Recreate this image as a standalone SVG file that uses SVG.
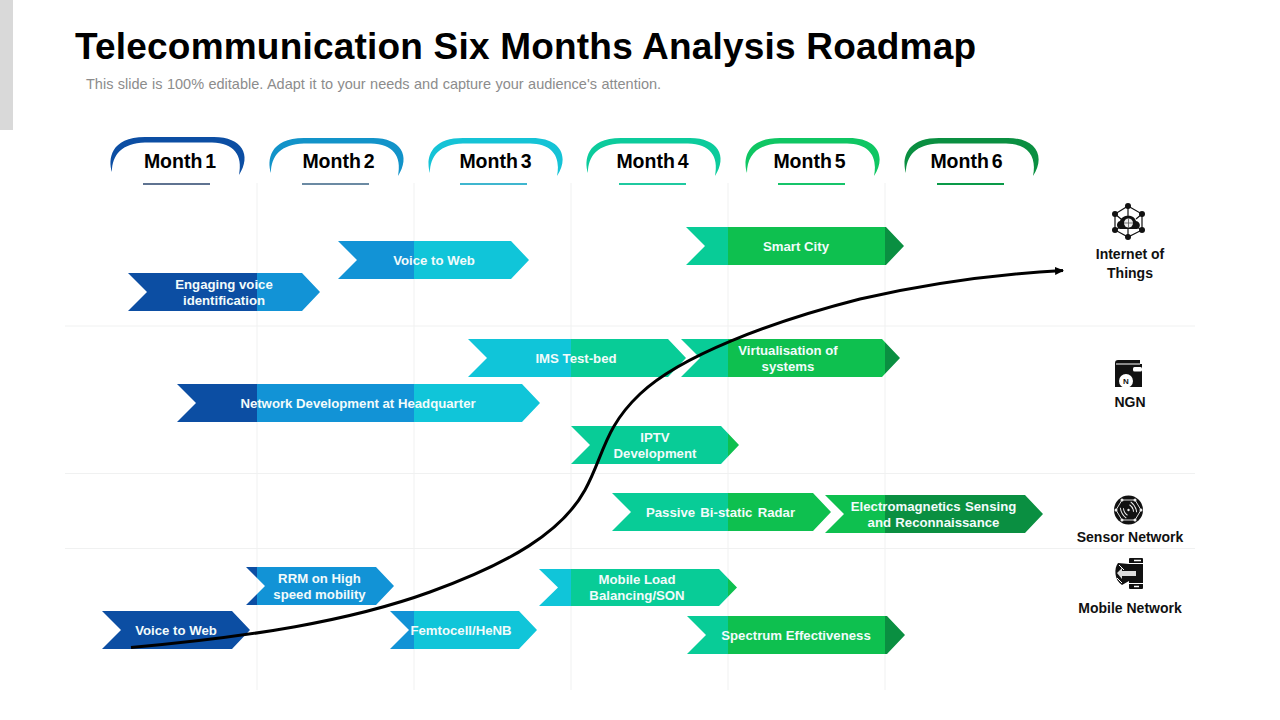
<svg xmlns="http://www.w3.org/2000/svg" width="1280" height="720" viewBox="0 0 1280 720">
<style>
text{font-family:"Liberation Sans",Arial,sans-serif}
.title{font-size:37px;font-weight:700;fill:#000;letter-spacing:.2px}
.sub{font-size:14.500px;fill:#8c8c8c;word-spacing:.4px}
.mon{font-size:19.500px;font-weight:700;fill:#000;text-anchor:middle;word-spacing:-2.500px}
.bar{fill:url(#band)}
.lbl{font-size:13.200px;font-weight:700;fill:#f2fbfb;text-anchor:middle}
.cat{font-size:14px;font-weight:700;fill:#111;text-anchor:middle}
.grid{stroke:#f0f1f1;stroke-width:1;fill:none}
.ul{stroke-width:2;fill:none}
</style>
<defs>
<linearGradient id="band" gradientUnits="userSpaceOnUse" x1="0" y1="0" x2="1280" y2="0">
<stop offset=".2008" stop-color="#0c4ea3"/><stop offset=".2008" stop-color="#1293d6"/>
<stop offset=".3234" stop-color="#1293d6"/><stop offset=".3234" stop-color="#10c5d9"/>
<stop offset=".4461" stop-color="#10c5d9"/><stop offset=".4461" stop-color="#08cc97"/>
<stop offset=".5688" stop-color="#08cc97"/><stop offset=".5688" stop-color="#0ec04f"/>
<stop offset=".6914" stop-color="#0ec04f"/><stop offset=".6914" stop-color="#0a8f41"/>
</linearGradient>
<path id="tabshape" d="M2 35C-2 23 0 0 35 0H104C132 0 142 18 129 38C133 18 124 6 102 5.500H35C12 6 2 18 2 35Z"/>
<marker id="arr" markerUnits="userSpaceOnUse" markerWidth="10" markerHeight="10" refX="8" refY="4" orient="auto"><path d="M0 0L9 4L0 8Z" fill="#000"/></marker>
</defs>
<rect x="0" y="0" width="13" height="130" fill="#d9d9d9"/>
<text class="title" x="75" y="59">Telecommunication Six Months Analysis Roadmap</text>
<text class="sub" x="86" y="89">This slide is 100% editable. Adapt it to your needs and capture your audience's attention.</text>
<g id="grid">
<path class="grid" d="M257 183V690M414 183V690M571 183V690M728 183V690M885 183V690"/>
<path class="grid" d="M65 326H1195M65 473.500H1195M65 548.500H1195"/>
</g>
<g id="months">
<g id="month-1"><use href="#tabshape" x="110" y="137" fill="#0c4ea3"/><text class="mon" x="180" y="168">Month 1</text><path class="ul" stroke="#5f7391" d="M143 184H210"/></g>
<g id="month-2"><use href="#tabshape" x="269" y="138" fill="#1293c9"/><text class="mon" x="338.500" y="168">Month 2</text><path class="ul" stroke="#6b8aa3" d="M302 184H369"/></g>
<g id="month-3"><use href="#tabshape" x="428" y="138" fill="#15c3d6"/><text class="mon" x="495.500" y="168">Month 3</text><path class="ul" stroke="#3fb6cf" d="M460 184H527"/></g>
<g id="month-4"><use href="#tabshape" x="586" y="138" fill="#0ccb9c"/><text class="mon" x="652.500" y="168">Month 4</text><path class="ul" stroke="#1fc9a0" d="M619 184H686"/></g>
<g id="month-5"><use href="#tabshape" x="745" y="138" fill="#0fc663"/><text class="mon" x="809.500" y="168">Month 5</text><path class="ul" stroke="#16c46a" d="M778 184H845"/></g>
<g id="month-6"><use href="#tabshape" x="904" y="138" fill="#0a8f41"/><text class="mon" x="966.500" y="168">Month 6</text><path class="ul" stroke="#0a9a48" d="M937 184H1004"/></g>
</g>
<g id="bars">
<g id="n1"><path class="bar" d="M128 273H302L320 292L302 311H128L147 292Z"/><text class="lbl"><tspan x="224" y="289">Engaging voice</tspan><tspan x="224" y="305">identification</tspan></text></g>
<g id="n2"><path class="bar" d="M338 241H511L529 260L511 279H338L357 260Z"/><text class="lbl" x="434" y="265">Voice to Web</text></g>
<g id="n3"><path class="bar" d="M686 227H886L904 246L886 265H686L705 246Z"/><text class="lbl" x="796" y="251">Smart City</text></g>
<g id="n4"><path class="bar" d="M468 339H668L686 358L668 377H468L487 358Z"/><text class="lbl" x="576" y="363">IMS Test-bed</text></g>
<g id="n5"><path class="bar" d="M681 339H882L900 358L882 377H681L700 358Z"/><text class="lbl"><tspan x="788" y="355">Virtualisation of</tspan><tspan x="788" y="371">systems</tspan></text></g>
<g id="n6"><path class="bar" d="M177 384H522L540 403L522 422H177L196 403Z"/><text class="lbl" x="358" y="408">Network Development at Headquarter</text></g>
<g id="n7"><path class="bar" d="M571 426H721L739 445L721 464H571L590 445Z"/><text class="lbl"><tspan x="655" y="442">IPTV</tspan><tspan x="655" y="458">Development</tspan></text></g>
<g id="n8"><path class="bar" d="M612 493H813L831 512L813 531H612L631 512Z"/><text class="lbl" x="720.500" y="517" word-spacing="1.600">Passive Bi-static Radar</text></g>
<g id="n9"><path class="bar" d="M825 495H1025L1043 514L1025 533H825L844 514Z"/><text class="lbl" word-spacing=".6"><tspan x="933.500" y="511">Electromagnetics Sensing</tspan><tspan x="933.500" y="527">and Reconnaissance</tspan></text></g>
<g id="n10"><path class="bar" d="M246 567H376L394 586L376 605H246L265 586Z"/><text class="lbl"><tspan x="319.500" y="583">RRM on High</tspan><tspan x="319.500" y="599">speed mobility</tspan></text></g>
<g id="n11"><path class="bar" d="M102 611H232L250 630L232 649H102L121 630Z"/><text class="lbl" x="176" y="635">Voice to Web</text></g>
<g id="n12"><path class="bar" d="M390 611H519L537 630L519 649H390L409 630Z"/><text class="lbl" x="461" y="635">Femtocell/HeNB</text></g>
<g id="n13"><path class="bar" d="M539 569H719L737 587.500L719 606H539L558 587.500Z"/><text class="lbl"><tspan x="637" y="584">Mobile Load</tspan><tspan x="637" y="600">Balancing/SON</tspan></text></g>
<g id="n14"><path class="bar" d="M687 616H887L905 635L887 654H687L706 635Z"/><text class="lbl" x="796" y="640">Spectrum Effectiveness</text></g>
</g>
<g id="connectors">
<path d="M131 647.500C250 637 350 621 430 592C510 563 562 532 585 490C604 455 604 428 640 394C680 356 770 322 860 299C930 283 1000 274 1063 270.500" fill="none" stroke="#000" stroke-width="3" marker-end="url(#arr)"/>
</g>
<g id="iot">
<path d="M1128 206L1142 214V230L1128 237L1115 230V214Z" fill="none" stroke="#111" stroke-width="1.200"/>
<path d="M1128 206V216M1115 214L1121 219M1142 214L1136 219M1115 230L1120 227M1142 230L1137 227M1128 237V228" stroke="#111" stroke-width="1.200"/>
<g fill="#111"><circle cx="1128" cy="206" r="3"/><circle cx="1115" cy="214" r="3"/><circle cx="1142" cy="214" r="3"/><circle cx="1115" cy="230" r="3"/><circle cx="1142" cy="230" r="3"/><circle cx="1128" cy="237" r="3"/>
<path d="M1120 229C1116 228 1116 222 1120 221C1121 215 1134 213 1136 221C1141 222 1141 228 1137 229Z"/></g>
<circle cx="1128.500" cy="223" r="4.500" fill="#eee"/>
<path d="M1124 223H1133M1128.500 218.500V227.500" stroke="#555" stroke-width=".8"/>
<text class="cat"><tspan x="1130" y="259">Internet of</tspan><tspan x="1130" y="278">Things</tspan></text>
</g>
<g id="ngn">
<path d="M1118 360H1140V364H1142V387H1115V363Q1115 360 1118 360Z" fill="#111"/>
<path d="M1116 364H1140" stroke="#fff" stroke-width="1"/>
<rect x="1133" y="367" width="9" height="4.500" rx="1.500" fill="#fff"/>
<circle cx="1126" cy="381" r="7" fill="#fff"/>
<text x="1126" y="384" font-size="8" font-weight="700" text-anchor="middle" fill="#111">N</text>
<text class="cat" x="1130" y="407">NGN</text>
</g>
<g id="sensor">
<circle cx="1128.500" cy="510" r="14.500" fill="#111"/>
<path d="M1122 500H1135L1141 510L1135 520H1122L1116 510Z" fill="none" stroke="#ddd" stroke-width="1"/>
<g fill="#eee"><circle cx="1122" cy="500" r="1.500"/><circle cx="1135" cy="500" r="1.500"/><circle cx="1141" cy="510" r="1.500"/><circle cx="1135" cy="520" r="1.500"/><circle cx="1122" cy="520" r="1.500"/><circle cx="1116" cy="510" r="1.500"/><circle cx="1128.500" cy="510" r="1.200"/></g>
<path d="M1125 506Q1123 510 1125 514M1122.500 504Q1120 510 1122.500 516M1132 506Q1134 510 1132 514M1134.500 504Q1137 510 1134.500 516" transform="rotate(-30 1128.500 510)" fill="none" stroke="#eee" stroke-width="1"/>
<text class="cat" x="1130" y="542">Sensor Network</text>
</g>
<g id="mobile">
<rect x="1129" y="558" width="14" height="31" rx="1" fill="#111"/>
<path d="M1134 560.500H1141" stroke="#fff" stroke-width="1.500"/>
<path d="M1129 563.500H1143M1129 583.500H1143" stroke="#fff" stroke-width="1.200"/>
<path d="M1134 586.500H1139" stroke="#fff" stroke-width="1.500"/>
<path d="M1129 564L1118 563C1114 568 1114 580 1122 585L1129 581Z" fill="#111"/>
<path d="M1117 573L1122 568V571H1136V576H1122V579Z" fill="#ddd"/>
<path d="M1119 565L1124 570M1117 578L1122 583" stroke="#fff" stroke-width="1"/>
<text class="cat" x="1130" y="613">Mobile Network</text>
</g>
</svg>
